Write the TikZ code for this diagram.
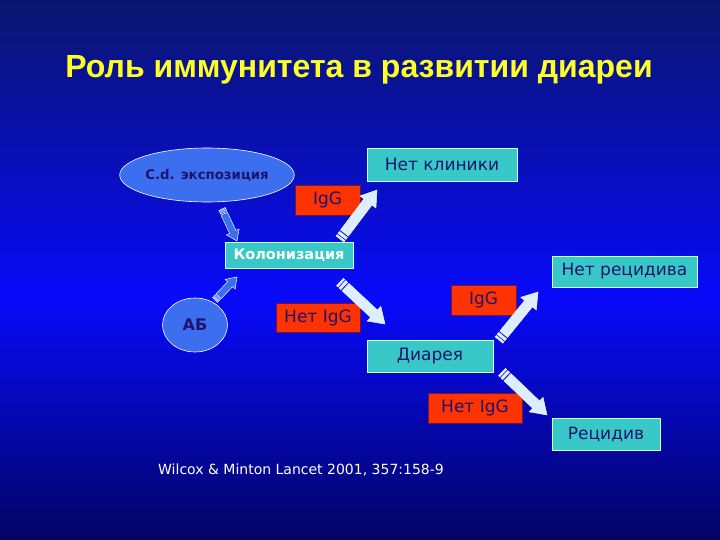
\documentclass[tikz,border=0pt]{standalone}
\usepackage{fontspec}
\setmainfont{Liberation Sans}
\newfontfamily\tahoma{DejaVu Sans}
\usetikzlibrary{shapes.geometric}
\definecolor{bgtop}{RGB}{10,22,110}
\definecolor{bgmid}{RGB}{8,10,250}
\definecolor{bgbot}{RGB}{2,4,100}
\definecolor{tealbox}{RGB}{56,200,200}
\definecolor{tealedge}{RGB}{200,255,255}
\definecolor{redbox}{RGB}{255,51,0}
\definecolor{rededge}{RGB}{120,20,50}
\definecolor{navytext}{RGB}{30,20,110}
\definecolor{blobblue}{RGB}{60,110,240}
\definecolor{arrfill}{RGB}{220,238,255}
\definecolor{arredge}{RGB}{238,246,255}
\definecolor{titleyellow}{RGB}{255,255,40}

% striped block arrow: style, from, to, shaft half width, head half width, head length
\newcommand\stripedarrow[6]{%
  \pgfpointdiff{\pgfpointanchor{#2}{center}}{\pgfpointanchor{#3}{center}}%
  \pgfgetlastxy\ax\ay
  \pgfmathsetmacro\arot{atan2(\ay,\ax)}%
  \pgfmathsetmacro\alen{veclen(\ax,\ay)}%
  \pgfmathsetmacro\abase{\alen-#6}%
  \begin{scope}[shift={(#2)},rotate=\arot,x=1pt,y=1pt]
    \filldraw[#1] (0,-#4) rectangle (0.35*#4,#4);
    \filldraw[#1] (0.65*#4,-#4) rectangle (1.15*#4,#4);
    \filldraw[#1] (1.5*#4,-#4) -- (\abase,-#4) -- (\abase,-#5) -- (\alen,0)
      -- (\abase,#5) -- (\abase,#4) -- (1.5*#4,#4) -- cycle;
  \end{scope}}

\begin{document}
\begin{tikzpicture}[x=1pt,y=-1pt,
 font=\tahoma\fontsize{17}{19}\selectfont,
 box/.style={draw=tealedge,fill=tealbox,line width=0.8pt,inner sep=0pt,minimum height=32pt,text=navytext},
 tag/.style={draw=rededge,fill=redbox,line width=0.6pt,inner sep=0pt,minimum width=65pt,minimum height=30pt,text=navytext},
 blob/.style={ellipse,draw=white,fill=blobblue,line width=0.6pt,inner sep=0pt,text=navytext,
   font=\tahoma\bfseries\fontsize{13.3}{15}\selectfont},
 arr/.style={draw=arredge,fill=arrfill,line width=0.5pt},
 darr/.style={draw=arredge,fill=blobblue,line width=0.5pt}]
\shade[top color=bgtop,bottom color=bgmid] (0,0) rectangle (720,300);
\shade[top color=bgmid,bottom color=bgbot] (0,300) rectangle (720,540);
\useasboundingbox (0,0) rectangle (720,540);
\node[text=titleyellow,font=\bfseries\fontsize{32}{36}\selectfont] (title) at (359,70) {Роль иммунитета в развитии диареи};
\node[blob,minimum width=151pt,minimum height=54pt] (expo) at (207,175) {C.d. экспозиция};
\node[box,minimum width=150pt,minimum height=33pt] (noclin) at (442,164.5) {Нет клиники};
\node[tag] (igg1) at (327.5,200) {IgG};
\node[box,minimum width=128pt,minimum height=26pt,text=white,font=\tahoma\bfseries\fontsize{14.5}{16}\selectfont] (colon) at (289,255) {Колонизация};
\node[blob,minimum width=65pt,minimum height=54pt,font=\tahoma\bfseries\fontsize{16}{18}\selectfont] (ab) at (195,325) {АБ};
\node[tag,minimum width=84pt,minimum height=29pt] (noigg1) at (318,317.5) {Нет IgG};
\node[box,minimum width=126pt] (diar) at (430,356) {Диарея};
\node[tag] (igg2) at (483.5,300) {IgG};
\node[box,minimum width=145pt,minimum height=31pt] (norec) at (624.5,271.5) {Нет рецидива};
\node[tag,minimum width=94pt] (noigg2) at (475,408) {Нет IgG};
\node[box,minimum width=108pt] (rec) at (606,434) {Рецидив};
\node[text=white,font=\tahoma\fontsize{14}{16}\selectfont] (cite) at (301,470) {Wilcox \& Minton Lancet 2001, 357:158-9};
% arrow ends
\coordinate (expo-out) at (222,209);
\coordinate (colon-in1) at (237,241);
\coordinate (ab-out) at (215,300);
\coordinate (colon-in2) at (237,277);
\coordinate (colon-up) at (340,239);
\coordinate (noclin-in) at (377,190);
\coordinate (colon-down) at (340,282);
\coordinate (diar-in) at (385,324);
\coordinate (diar-up) at (499,340);
\coordinate (norec-in) at (538,292);
\coordinate (diar-down) at (502,372);
\coordinate (rec-in) at (547,415);
\stripedarrow{darr}{expo-out}{colon-in1}{3.5}{7}{10}
\stripedarrow{darr}{ab-out}{colon-in2}{3.5}{7}{10}
\stripedarrow{arr}{colon-up}{noclin-in}{5}{10}{15}
\stripedarrow{arr}{colon-down}{diar-in}{5}{10}{15}
\stripedarrow{arr}{diar-up}{norec-in}{5}{10}{15}
\stripedarrow{arr}{diar-down}{rec-in}{5}{10}{15}
\end{tikzpicture}
\end{document}
